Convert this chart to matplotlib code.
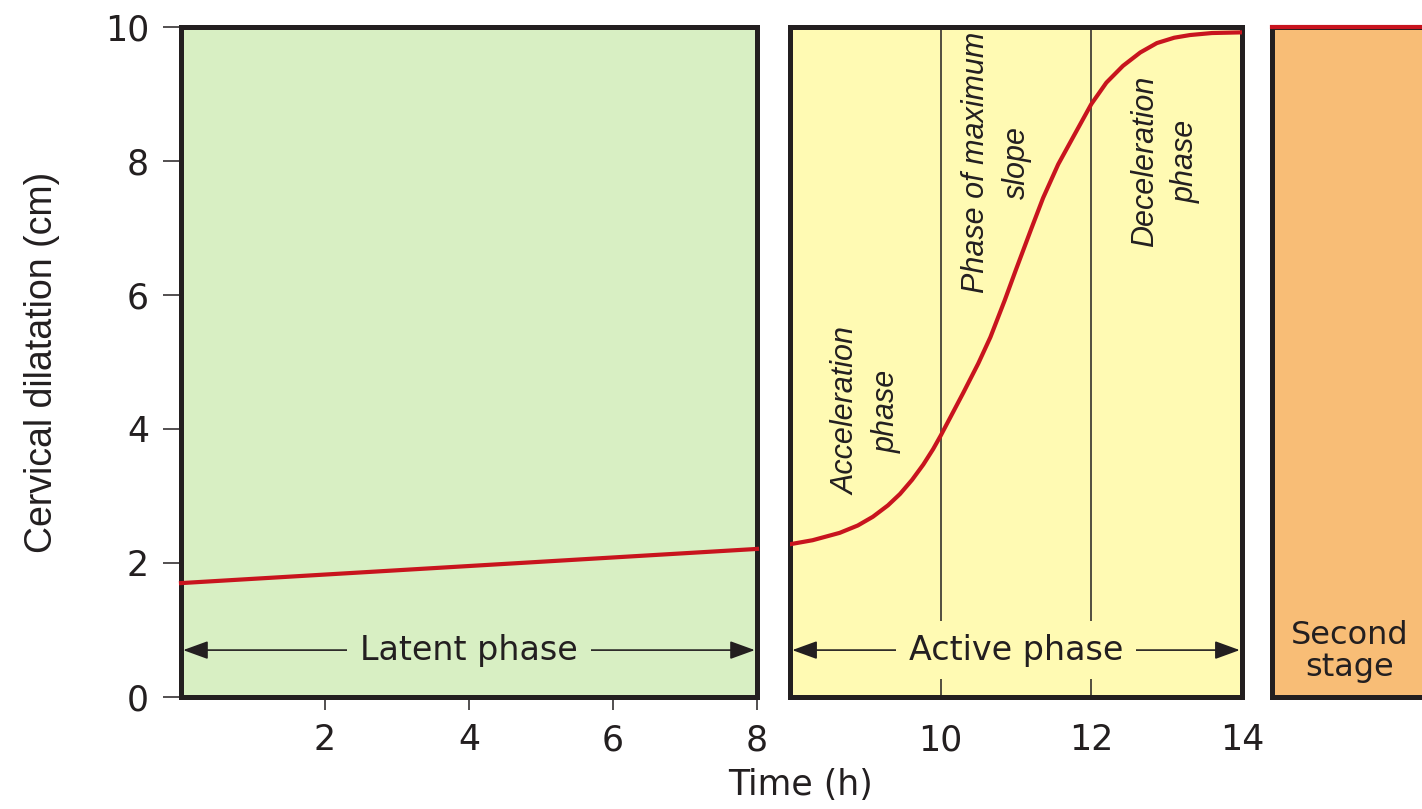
import matplotlib.pyplot as plt
import numpy as np

# latent phase (0-8 h)
latent_t = [0, 8]
latent_cm = [1.70, 2.21]

# active phase (8-14 h)
active_t = [8.0, 8.3, 8.66, 8.9, 9.1, 9.3, 9.46, 9.62, 9.77, 9.9, 10.0, 10.15, 10.3, 10.5,
            10.66, 10.85, 11.0, 11.2, 11.36, 11.56, 11.76, 12.0, 12.2, 12.42, 12.65, 12.87,
            13.1, 13.31, 13.6, 14.0]
active_cm = [2.28, 2.34, 2.45, 2.56, 2.69, 2.86, 3.03, 3.24, 3.47, 3.70, 3.90, 4.22, 4.54, 4.98,
             5.37, 5.92, 6.38, 6.98, 7.45, 7.95, 8.36, 8.85, 9.17, 9.42, 9.62, 9.76,
             9.84, 9.88, 9.91, 9.92]

# second stage (fully dilated)
second_t = [14.4, 16.6]
second_cm = [10, 10]

y_ticks = [0, 2, 4, 6, 8, 10]
latent_ticks = [2, 4, 6, 8]
active_ticks = [10, 12, 14]
phase_lines = [10, 12]

GREEN = "#d8efc3"
YELLOW = "#fffab3"
ORANGE = "#f8bd76"
RED = "#c8141e"
DARK = "#231f20"

plt.rcParams["font.family"] = ["DejaVu Sans"]

W, H = 1422, 809
fig = plt.figure(figsize=(W / 100, H / 100), dpi=100)

def box(l, r, t=27, b=697):
    return [l / W, 1 - b / H, (r - l) / W, (b - t) / H]

ax1 = fig.add_axes(box(181, 757))
ax2 = fig.add_axes(box(790, 1242))
ax3 = fig.add_axes(box(1272, 1422))

for ax, col in [(ax1, GREEN), (ax2, YELLOW), (ax3, ORANGE)]:
    ax.set_facecolor(col)
    ax.set_ylim(0, 10)
    for s in ax.spines.values():
        s.set_linewidth(3.6)
        s.set_color(DARK)
    ax.tick_params(labelsize=25, colors=DARK)

ax3.spines["right"].set_visible(False)

arrow = dict(arrowstyle="<|-|>,head_length=0.55,head_width=0.2", color=DARK, lw=1.2,
             mutation_scale=28, shrinkA=0, shrinkB=0)

# panel 1
ax1.set_xlim(0, 8)
ax1.set_yticks(y_ticks)
ax1.set_xticks(latent_ticks)
ax1.tick_params(axis="y", direction="out", length=13, width=1.1, pad=10)
ax1.tick_params(axis="x", direction="out", length=9, width=1.1, pad=10)
ax1.plot(latent_t, latent_cm, color=RED, lw=3.0, clip_on=False, zorder=5)
ax1.annotate("", xy=(0.03, 0.7), xytext=(7.97, 0.7), arrowprops=arrow)
ax1.text(4, 0.7, "Latent phase", ha="center", va="center", fontsize=24, color=DARK,
         bbox=dict(facecolor=GREEN, edgecolor="none", pad=9))

# panel 2
ax2.set_xlim(8, 14)
ax2.set_yticks([])
ax2.set_xticks(active_ticks)
ax2.tick_params(axis="x", length=0, pad=19)
for v in phase_lines:
    ax2.axvline(v, color=DARK, lw=1.1, zorder=1)
ax2.plot(active_t, active_cm, color=RED, lw=3.0, zorder=5, solid_joinstyle="round")
ax2.annotate("", xy=(8.03, 0.7), xytext=(13.97, 0.7), arrowprops=arrow)
ax2.text(11, 0.7, "Active phase", ha="center", va="center", fontsize=24, color=DARK,
         zorder=4, bbox=dict(facecolor=YELLOW, edgecolor="none", pad=9))

lab = dict(rotation=90, ha="center", va="center", fontsize=22, style="italic",
           family=["Liberation Sans", "DejaVu Sans"], color=DARK, linespacing=1.45)
ax2.text(9.02, 4.27, "Acceleration\nphase", **lab)
ax2.text(10.74, 7.98, "Phase of maximum\nslope", **lab)
ax2.text(12.98, 8.0, "Deceleration\nphase", **lab)

# panel 3
ax3.set_xlim(14.4, 16.4)
ax3.set_xticks([])
ax3.set_yticks([])
ax3.plot(second_t, second_cm, color=RED, lw=3.0, clip_on=False, zorder=5)
ax3.text(15.43, 0.68, "Second\nstage", ha="center", va="center", fontsize=23,
         color=DARK, linespacing=1.05)

fig.text(800 / W, 1 - 785 / H, "Time (h)", ha="center", va="center", fontsize=25, color=DARK)
fig.text(42 / W, 1 - 362 / H, "Cervical dilatation (cm)", rotation=90, ha="center",
         va="center", fontsize=27, family=["Liberation Sans", "DejaVu Sans"], color=DARK)

fig.savefig("out.png", dpi=100)
